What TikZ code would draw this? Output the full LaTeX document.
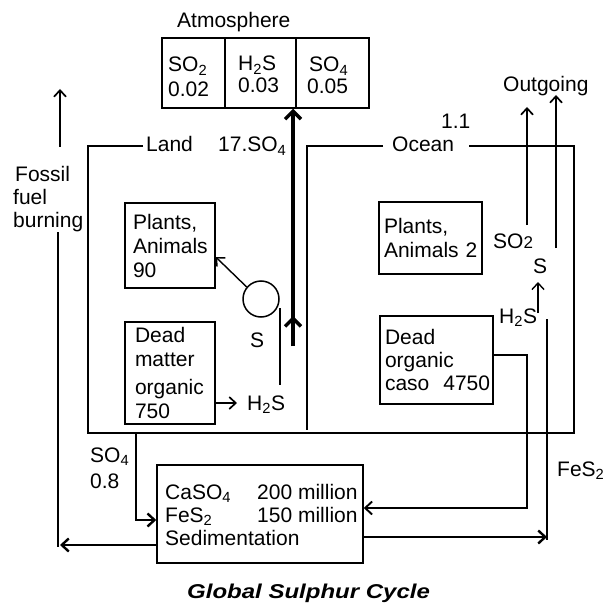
\documentclass[tikz,border=0pt]{standalone}
\usepackage{fontspec}
\setmainfont{Liberation Sans}
\usetikzlibrary{arrows.meta,calc}
\newcommand\fs{\fontsize{21}{24}\selectfont}
\newcommand\titlef{\fontsize{20}{24}\selectfont\bfseries\itshape}
\newcommand\sbs[1]{\textsubscript{#1}}
\begin{document}
\begin{tikzpicture}[x=1pt,y=-1pt,
  every node/.style={font=\fs},
  lbl/.style={anchor=base west, inner sep=0},
  box/.style={draw, line width=1.5pt, inner ysep=0, align=left},
  cell/.style={draw, line width=1.5pt, inner sep=0, minimum height=70pt},
  ln/.style={line width=1.5pt},
  arr/.style={line width=1.7pt, -{Straight Barb[length=6.5pt,width=12pt]}},
  bold arr/.style={line width=2.4pt, -{Straight Barb[length=7pt,width=13pt]}},
  thick arr/.style={line width=3.5pt, -{Straight Barb[length=8pt,width=16pt]}},
]
\useasboundingbox (0,0) rectangle (603,604);

% Atmosphere
\node[lbl] (atm) at (177,28) {Atmosphere};
\node[cell, minimum width=63pt] (c1) at (193.5,73) {};
\node[cell, minimum width=71pt] (c2) at (260.5,73) {};
\node[cell, minimum width=73pt] (c3) at (332.5,73) {};
\node[lbl] (c1a) at (168,72) {SO\sbs{2}};
\node[lbl] (c1b) at (168,97) {0.02};
\node[lbl] (c2a) at (238,71) {H\sbs{2}S};
\node[lbl] (c2b) at (238,93) {0.03};
\node[lbl] (c3a) at (309,72) {SO\sbs{4}};
\node[lbl] (c3b) at (307,94) {0.05};

% Fossil fuel
\node[lbl] (ff1) at (15,182) {Fossil};
\node[lbl] (ff2) at (13,204) {fuel};
\node[lbl] (ff3) at (13,227) {burning};
\coordinate (ffa) at (60,147);
\coordinate (ffb) at (60,89);
\draw[arr] (ffa) -- (ffb);

% Land / Ocean outline
\node[lbl] (land) at (146,152) {Land};
\node[lbl] (so17) at (218,152) {17.SO\sbs{4}};
\node[lbl] (ocean) at (392,152) {Ocean};
\node[lbl] (v11) at (441,129) {1.1};
\draw[ln] (143,146) -- (88,146) -- (88,433) -- (574,433) -- (574,146) -- (469,146);
\draw[ln] (383,146) -- (307,146) -- (307,430);

% Land boxes
\node[box, minimum width=90pt, minimum height=85pt, inner xsep=8pt, text width=74pt] (pa) at (170,245.5) {Plants,\\\mbox{Animals}\\90};
\node[box, minimum width=90pt, minimum height=102pt, inner xsep=10pt, text width=70pt] (dm) at (170,373) {Dead\\matter\\[4pt]\mbox{organic}\\750};
\node[draw, circle, line width=1.5pt, minimum size=36pt, inner sep=0] (circ) at (261,299) {};
\node[lbl] (sL) at (250,347) {S};
\node[lbl] (h2sL) at (247,410) {H\sbs{2}S};
\draw[arr, line width=1.4pt] (circ.140) -- (pa.east |- 0,257);
\draw[ln] ($(circ.east)+(0,9)$) -- ++(0,77);
\draw[arr] (dm.east |- 0,403) -- (237,403);

% Thick arrow to atmosphere
\coordinate (tb) at (293,346);
\coordinate (tm) at (293,316);
\draw[thick arr] (tb) -- (tm);
\draw[thick arr] (tb) -- (tb |- c2.south);

% Ocean boxes
\node[box, minimum width=103pt, minimum height=72pt, inner xsep=5pt, text width=93pt] (po) at (430.5,238) {Plants,\\\mbox{Animals 2}};
\node[box, minimum width=113pt, minimum height=88pt, inner xsep=5pt, text width=103pt, font=\fontsize{21}{23}\selectfont] (do) at (436.5,360) {Dead\\organic\\\mbox{caso\ \ 4750}};
\node[lbl] (so2O) at (493,248) {SO{\fontsize{17}{17}\selectfont 2}};
\node[lbl] (sO) at (533,273) {S};
\node[lbl] (h2sO) at (499,323) {H\sbs{2}S};
\node[lbl] (outg) at (503,92) {Outgoing};
\node[lbl] (fes2) at (557,476) {FeS\sbs{2}};
\coordinate (o1a) at (527,225);
\coordinate (o1b) at (527,107);
\coordinate (o2a) at (556,248);
\coordinate (o2b) at (556,95);
\draw[arr] (o1a) -- (o1b);
\draw[arr] (o2a) -- (o2b);
\coordinate (hsa) at (538,313);
\coordinate (hsb) at (538,282);
\draw[arr, line width=1.4pt] (hsa) -- (hsb);

% Sedimentation
\node[draw, line width=1.5pt, minimum width=206pt, minimum height=98pt, inner sep=0] (sed) at (260,514) {};
\node[lbl] (s1) at (165,499) {CaSO\sbs{4}};
\node[lbl] (s2) at (165,522) {FeS\sbs{2}};
\node[lbl] (s3) at (165,545) {Sedimentation};
\node[lbl] (s4) at (257,499) {200 million};
\node[lbl] (s5) at (257,522) {150 million};
\node[lbl] (so4L) at (90,462) {SO\sbs{4}};
\node[lbl] (v08) at (90,488) {0.8};

\coordinate (sla) at (136,433);
\coordinate (slb) at (136,520);
\draw[bold arr] (sla) -- (slb) -- (sed.west |- slb);
\coordinate (dra) at (527,355);
\coordinate (drb) at (527,508);
\draw[bold arr, line width=1.9pt] (do.east |- dra) -- (dra) -- (drb) -- (sed.east |- drb);
\coordinate (fra) at (547,537);
\draw[bold arr] (sed.east |- fra) -- (fra);
\draw[ln] (547,319) -- (547,540);
\coordinate (fla) at (60,545);
\draw[bold arr] (sed.west |- fla) -- (fla);
\draw[ln] (58,232) -- (58,547);

% Title
\node[lbl, font=\titlef] (title) at (187,598) {\scalebox{1.2}[1]{Global Sulphur Cycle}};
\end{tikzpicture}
\end{document}
